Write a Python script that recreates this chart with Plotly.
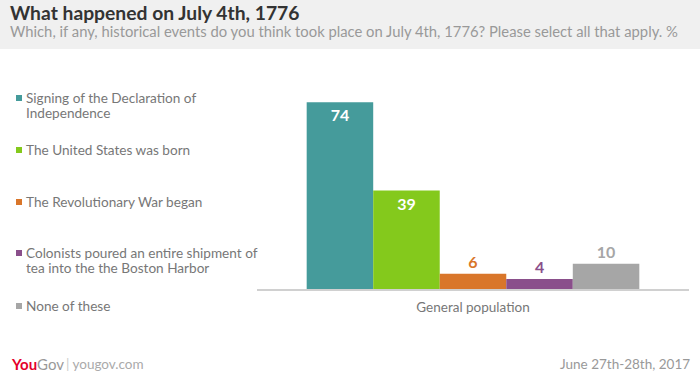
import plotly.graph_objects as go

answers = [
    "Signing of the Declaration of<br>Independence",
    "The United States was born",
    "The Revolutionary War began",
    "Colonists poured an entire shipment of<br>tea into the the Boston Harbor",
    "None of these",
]
values = [74, 39, 6, 4, 10]
colors = ["#459b9b", "#84c91c", "#d9762a", "#8a4f8b", "#a6a6a6"]
group = ["General population"]

W, H = 700, 376
L, R, T, B = 257, 11, 87, 87

fig = go.Figure()
for i, (name, v, c) in enumerate(zip(answers, values, colors)):
    inside = v >= 20
    fig.add_trace(go.Bar(
        x=group, y=[v], name=name.replace("<br>", " "), marker=dict(color=c, line=dict(width=0)),
        text=[str(v)],
        textposition="inside" if inside else "outside",
        insidetextanchor="end",
        textfont=dict(family="Lato", size=16, color="white" if inside else c, weight="bold"),
        cliponaxis=False,
        showlegend=False,
    ))

fig.update_layout(
    width=W, height=H,
    margin=dict(l=L, r=R, t=T, b=B),
    paper_bgcolor="white", plot_bgcolor="white",
    barmode="group", bargap=0.23, bargroupgap=0,
    xaxis=dict(showgrid=False, showline=True, linecolor="#d0d0d0", linewidth=2,
               ticks="outside", ticklen=5, tickcolor="rgba(0,0,0,0)",
               tickfont=dict(family="Lato", size=13.5, color="#777"),
               fixedrange=True),
    yaxis=dict(range=[0, 80], visible=False, fixedrange=True),
    font=dict(family="Lato"),
)

def px(x):
    return (x - L) / (W - L - R)

def py(y):
    return (H - B - y) / (H - T - B)

# header band
fig.add_shape(type="rect", xref="paper", yref="paper",
              x0=px(0), x1=px(W), y0=py(49), y1=py(0),
              fillcolor="#f0f0f0", line=dict(width=0), layer="below")

fig.add_annotation(text="<b>What happened on July 4th, 1776</b>", xref="paper", yref="paper",
                   x=px(8), y=py(13), xanchor="left", yanchor="middle", showarrow=False,
                   font=dict(family="Lato", size=19.3, color="#333"))
fig.add_annotation(text="Which, if any, historical events do you think took place on July 4th, 1776? Please select all that apply. %",
                   xref="paper", yref="paper", x=px(8), y=py(31), xanchor="left", yanchor="middle",
                   showarrow=False, font=dict(family="Lato", size=14.8, color="#999"))

# custom legend
legend_y = [98, 150, 202, 253, 306]
for name, c, y in zip(answers, colors, legend_y):
    fig.add_shape(type="rect", xref="paper", yref="paper",
                  x0=px(16), x1=px(22), y0=py(y + 3), y1=py(y - 3),
                  fillcolor=c, line=dict(width=0))
    for k, line in enumerate(name.split("<br>")):
        fig.add_annotation(text=line, xref="paper", yref="paper", x=px(24), y=py(y + 15 * k),
                           xanchor="left", yanchor="middle", align="left", showarrow=False,
                           font=dict(family="Lato", size=13.6, color="#777"))

# footer
fig.add_annotation(text="<b><span style='color:#e4002b'>You</span></b><span style='color:#999'>Gov</span>",
                   xref="paper", yref="paper", x=px(9), y=py(364), xanchor="left", yanchor="middle",
                   showarrow=False, font=dict(family="Lato", size=15))
fig.add_annotation(text="<span style='color:#ccc'>|</span> yougov.com",
                   xref="paper", yref="paper", x=px(64), y=py(364), xanchor="left", yanchor="middle",
                   showarrow=False, font=dict(family="Lato", size=13.5, color="#aaa"))
fig.add_annotation(text="June 27th-28th, 2017", xref="paper", yref="paper", x=px(692), y=py(364),
                   xanchor="right", yanchor="middle", showarrow=False,
                   font=dict(family="Lato", size=13.5, color="#999"))

fig.write_html("out.html", config={"displayModeBar": False},
               post_script="document.body.style.margin='0';document.body.style.padding='0';")
